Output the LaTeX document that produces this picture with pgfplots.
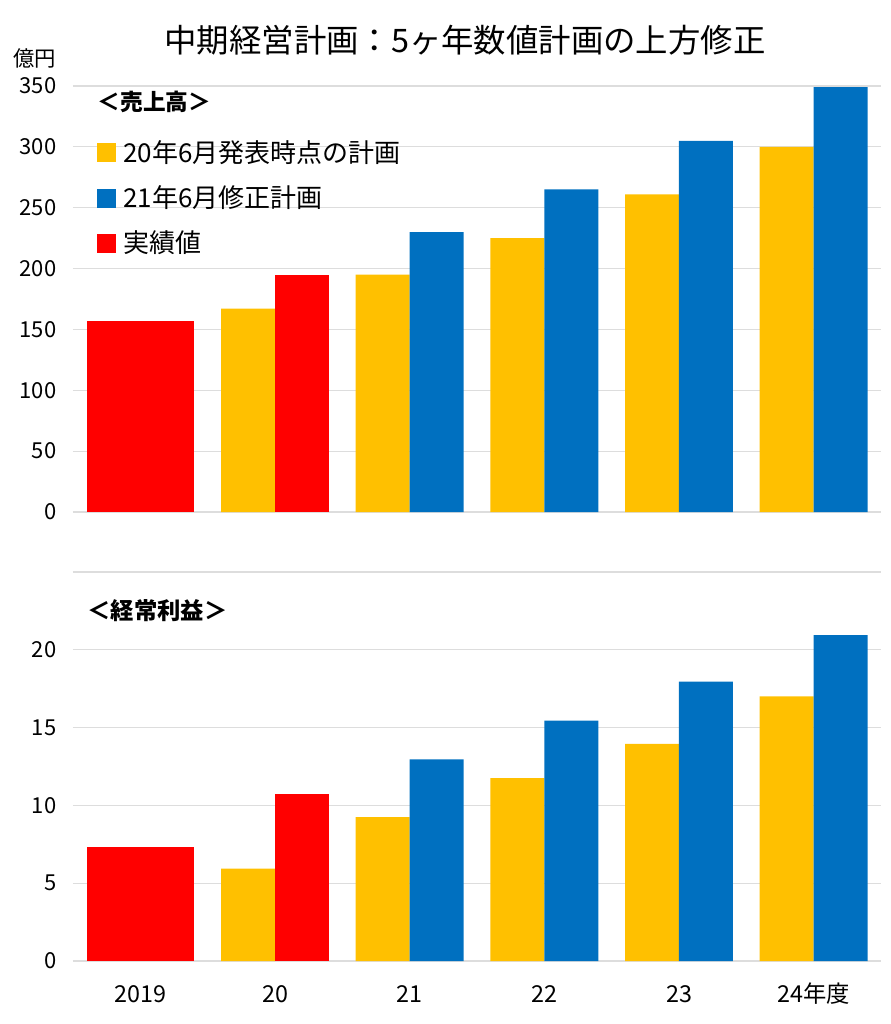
\documentclass[border=0pt]{standalone}
\usepackage{pgfplots}
\pgfplotsset{compat=1.18}
\usepackage{fontspec}
\setmainfont{Noto Sans CJK JP}
\definecolor{cY}{HTML}{FFC000}
\definecolor{cB}{HTML}{0070C0}
\definecolor{cR}{HTML}{FF0000}
\definecolor{gridc}{HTML}{DDDDDD}
\pgfplotsset{mybase/.style={
  scale only axis, width=606pt,
  xmin=-0.5, xmax=5.5,
  axis line style={draw=none},
  tick style={draw=none},
  ymajorgrids, major grid style={gridc, line width=0.8pt},
  xtick={0,...,5},
  /pgf/number format/assume math mode=true,
  ticklabel style={font=\fontsize{16.5}{20}\selectfont},
  yticklabel style={xshift=-9pt},
}}
\begin{document}
\begin{tikzpicture}
\useasboundingbox (-54.75pt,-384pt) rectangle (612.75pt,384pt);
\node[font=\fontsize{24.3}{28}\selectfont] at (294pt,354pt) {中期経営計画：5ヶ年数値計画の上方修正};
\node[font=\fontsize{16}{19}\selectfont] at (-28.5pt,340.5pt) {億円};
% top axis
\begin{axis}[mybase, at={(0pt,0pt)}, anchor=south west, height=319.5pt,
  ymin=0, ymax=350, ytick={0,50,...,350}, xticklabels={},
  legend style={at={(0.025,0.885)}, anchor=north west, draw=none, fill=none,
    font=\fontsize{19.5}{23}\selectfont, row sep=12pt, legend cell align=left,
    /tikz/every odd column/.append style={column sep=4pt}},
]
\addplot[ybar, bar width=0.795, bar shift=0, fill=cR, draw=none, forget plot] coordinates {(0,157)};
\addplot[ybar, bar width=0.401, bar shift=-0.2, fill=cY, draw=none, forget plot] coordinates {(1,167) (2,195) (3,225) (4,261) (5,300)};
\addplot[ybar, bar width=0.401, bar shift=0.2, fill=cR, draw=none, forget plot] coordinates {(1,195)};
\addplot[ybar, bar width=0.401, bar shift=0.2, fill=cB, draw=none, forget plot] coordinates {(2,230) (3,265) (4,305) (5,349)};
\addlegendimage{only marks, mark=square*, cY, mark size=6.75pt}
\addlegendentry{20年6月発表時点の計画}
\addlegendimage{only marks, mark=square*, cB, mark size=6.75pt}
\addlegendentry{21年6月修正計画}
\addlegendimage{only marks, mark=square*, cR, mark size=6.75pt}
\addlegendentry{実績値}
\node[anchor=west, font=\bfseries\fontsize{17}{20}\selectfont] at (rel axis cs:0.025,0.962) {＜売上高＞};
\end{axis}
% bottom axis
\begin{axis}[mybase, at={(0pt,-45pt)}, anchor=north west, height=291.75pt,
  ymin=0, ymax=25, ytick={0,5,...,20},
  extra y ticks={25}, extra y tick labels={},
  xticklabels={2019,20,21,22,23,24年度},
  xticklabel style={anchor=base, yshift=-31pt, font=\fontsize{17.5}{20}\selectfont},
]
\addplot[ybar, bar width=0.795, bar shift=0, fill=cR, draw=none] coordinates {(0,7.33)};
\addplot[ybar, bar width=0.401, bar shift=-0.2, fill=cY, draw=none] coordinates {(1,5.94) (2,9.25) (3,11.75) (4,13.95) (5,17.0)};
\addplot[ybar, bar width=0.401, bar shift=0.2, fill=cR, draw=none] coordinates {(1,10.75)};
\addplot[ybar, bar width=0.401, bar shift=0.2, fill=cB, draw=none] coordinates {(2,12.95) (3,15.45) (4,17.95) (5,20.95)};
\node[anchor=west, font=\bfseries\fontsize{17.5}{20}\selectfont] at (rel axis cs:0.012,0.902) {＜経常利益＞};
\end{axis}
\end{tikzpicture}
\end{document}
